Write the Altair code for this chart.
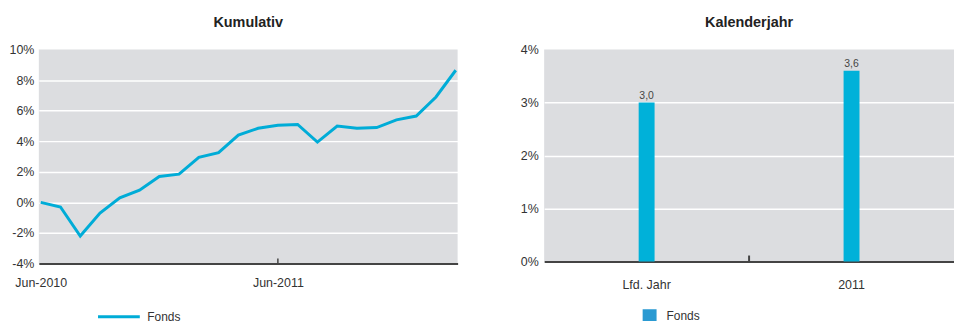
import altair as alt
import pandas as pd

# ---------------- data ----------------
months = ["Jun-2010", "Jul-2010", "Aug-2010", "Sep-2010", "Oct-2010", "Nov-2010",
          "Dec-2010", "Jan-2011", "Feb-2011", "Mar-2011", "Apr-2011", "May-2011",
          "Jun-2011", "Jul-2011", "Aug-2011", "Sep-2011", "Oct-2011", "Nov-2011",
          "Dec-2011", "Jan-2012", "Feb-2012", "Mar-2012"]
fonds_cum = [0.0, -0.3, -2.2, -0.7, 0.3, 0.8, 1.7, 1.85, 2.95, 3.25, 4.4, 4.85,
             5.05, 5.1, 3.95, 5.0, 4.85, 4.9, 5.4, 5.65, 6.9, 8.65]
left_labels = ["Jun-2010", "Jun-2011"]
left_yticks = [-4, -2, 0, 2, 4, 6, 8, 10]

years = ["Lfd. Jahr", "2011"]
fonds_year = [3.0, 3.6]
right_yticks = [0, 1, 2, 3, 4]

series = "Fonds"

LINE = "#00acd7"
BAR = "#00b1d9"
SWATCH = "#2a9ad2"
TXT = "#333333"
AX = "#444444"
FONT = "Liberation Sans"

cum_df = pd.DataFrame({"month": months, "value": fonds_cum, "series": series})
year_df = pd.DataFrame({"year": years, "value": fonds_year, "series": series})
left_tick_df = pd.DataFrame({"month": [left_labels[1]]})
right_tick_df = pd.DataFrame({"year": [years[1]]})

hide_top = {"condition": {"test": "datum.value >= %s" % 10, "value": 0}, "value": 1}
hide_top_r = {"condition": {"test": "datum.value >= %s" % 4, "value": 0}, "value": 1}

# ---------------- left: Kumulativ ----------------
x_left = alt.X("month:O", sort=months,
               scale=alt.Scale(type="point", padding=0.095),
               axis=alt.Axis(values=left_labels, title=None, ticks=False, labelAngle=0,
                             labelPadding=13, domainColor=AX, domainWidth=2, grid=False,
                             labelFontSize=12.5, labelColor=TXT))
y_left = alt.Y("value:Q", scale=alt.Scale(domain=[-4, 10], nice=False, zero=False),
               axis=alt.Axis(values=left_yticks, labelExpr="datum.value + '%'", title=None,
                             domain=False, ticks=False, gridColor="white", gridWidth=1.5,
                             gridOpacity=hide_top,
                             labelPadding=5, minExtent=31, maxExtent=31,
                             labelFontSize=12.5, labelColor=TXT))

line = alt.Chart(cum_df).mark_line(strokeWidth=3).encode(
    x=x_left, y=y_left,
    color=alt.Color("series:N", scale=alt.Scale(range=[LINE]),
                    legend=alt.Legend(orient="none", legendX=58, legendY=246, title=None,
                                      symbolType="stroke", symbolSize=1764,
                                      symbolStrokeWidth=3, labelOffset=6,
                                      labelFontSize=12, labelColor=TXT, padding=0)))

left_tick = alt.Chart(left_tick_df).mark_rule(color=AX, strokeWidth=1.5).encode(
    x=alt.X("month:O", sort=months), y=alt.value(210), y2=alt.value(215))

left = alt.layer(line, left_tick).properties(
    width=421, height=215,
    title=alt.TitleParams("Kumulativ", fontSize=14.5, fontWeight="bold", color="#222222",
                          anchor="middle", offset=13))

# ---------------- right: Kalenderjahr ----------------
x_right = alt.X("year:N", sort=years,
                scale=alt.Scale(paddingInner=0, paddingOuter=0),
                axis=alt.Axis(title=None, ticks=False, labelAngle=0, labelPadding=17,
                              domainColor=AX, domainWidth=2, grid=False,
                              labelFontSize=12.5, labelColor=TXT))
y_right = alt.Y("value:Q", scale=alt.Scale(domain=[0, 4], nice=False),
                axis=alt.Axis(values=right_yticks, labelExpr="datum.value + '%'", title=None,
                              domain=False, ticks=False, gridColor="white", gridWidth=1.5,
                              gridOpacity=hide_top_r,
                              labelPadding=6, minExtent=30, maxExtent=30,
                              labelFontSize=12.5, labelColor=TXT))

bars = alt.Chart(year_df).mark_bar(size=16, color=BAR).encode(x=x_right, y=y_right)

bar_text = alt.Chart(year_df).transform_calculate(
    label="replace(format(datum.value, '.1f'), '.', ',')"
).mark_text(baseline="bottom", dy=-2, fontSize=10.5, color="#444444").encode(
    x=alt.X("year:N", sort=years), y="value:Q", text="label:N")

legend_pt = alt.Chart(year_df).mark_point(filled=True, opacity=0, shape="square", size=1).encode(
    x=alt.X("year:N", sort=years), y="value:Q",
    color=alt.Color("series:N", scale=alt.Scale(range=[SWATCH]),
                    legend=alt.Legend(orient="none", legendX=99, legendY=261, title=None,
                                      symbolType="square", symbolSize=196, symbolOpacity=1,
                                      symbolStrokeWidth=0, labelOffset=10,
                                      labelFontSize=12, labelColor=TXT, padding=0)))

right_tick = alt.Chart(right_tick_df).mark_rule(color=AX, strokeWidth=2).encode(
    x=alt.X("year:N", sort=years, bandPosition=0), y=alt.value(207), y2=alt.value(213))

right = alt.layer(bars, bar_text, right_tick, legend_pt).properties(
    width=412, height=213,
    title=alt.TitleParams("Kalenderjahr", fontSize=14.5, fontWeight="bold", color="#222222",
                          anchor="middle", offset=13))

chart = alt.hconcat(left, right, spacing=52).resolve_scale(color="independent").properties(
    padding={"left": 0, "top": 6, "right": 0, "bottom": 0}
).configure(font=FONT).configure_view(fill="#dcdde0", strokeWidth=0)

chart.save("out.html", embed_options={"renderer": "svg", "actions": False})
